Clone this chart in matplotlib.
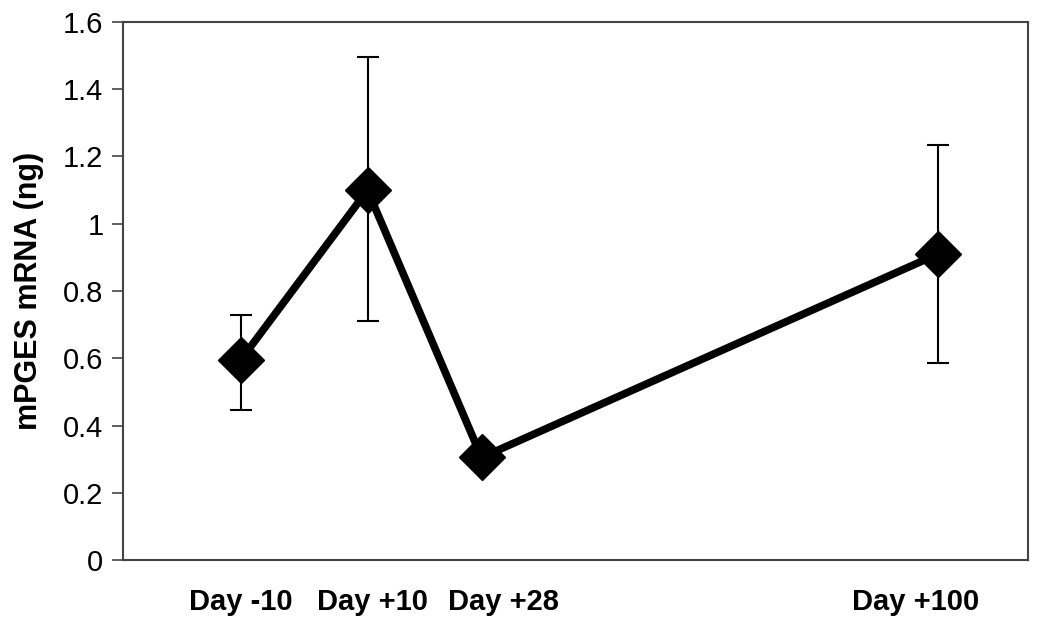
import matplotlib
matplotlib.use('Agg')
import matplotlib.pyplot as plt
from matplotlib.transforms import ScaledTranslation

# data
days = [-10, 10, 28, 100]
labels = ['Day -10', 'Day +10', 'Day +28', 'Day +100']
mpges = [0.595, 1.10, 0.305, 0.91]
err_up = [0.135, 0.395, 0.0, 0.325]
err_down = [0.15, 0.39, 0.0, 0.325]

# label nudges (pixels) as in the original layout
label_shift = [0, 5, 22, -22]

fams = ['Liberation Sans', 'DejaVu Sans']

fig = plt.figure(figsize=(10.5, 6.26), dpi=100)
ax = fig.add_axes([0.117, 0.1054, 0.862, 0.8595])

ax.errorbar(days, mpges, yerr=[err_down, err_up], fmt='none',
            ecolor='black', elinewidth=1.5, capsize=8, capthick=1.5, zorder=2)
ax.plot(days, mpges, color='black', linewidth=5.5, marker='D',
        markersize=23, markerfacecolor='black', zorder=3)

ax.set_xlim(-28.6, 114.2)
ax.set_ylim(0, 1.6)
ax.set_yticks([0, 0.2, 0.4, 0.6, 0.8, 1.0, 1.2, 1.4, 1.6])
ax.set_yticklabels(['0', '0.2', '0.4', '0.6', '0.8', '1', '1.2', '1.4', '1.6'],
                   fontsize=21, family=fams)
ax.set_xticks(days)
ax.set_xticklabels(labels, fontsize=21, fontweight='bold', family=fams)
ax.tick_params(axis='x', length=0, pad=20)
ax.tick_params(axis='y', length=8, width=1.2, color='#444444', pad=6)
ax.set_ylabel('mPGES mRNA (ng)', fontsize=22, fontweight='bold',
              family=fams, labelpad=14)

for lab, dx in zip(ax.get_xticklabels(), label_shift):
    lab.set_transform(lab.get_transform() + ScaledTranslation(dx / 100, 0, fig.dpi_scale_trans))

for s in ax.spines.values():
    s.set_color('#444444')
    s.set_linewidth(1.5)

plt.savefig('out.png')
